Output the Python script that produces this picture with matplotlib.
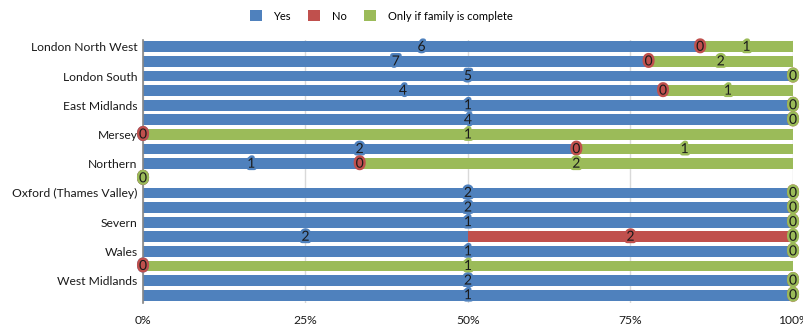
import numpy as np
import matplotlib
matplotlib.use("Agg")
import matplotlib.pyplot as plt
import matplotlib.patheffects as pe
from matplotlib.patches import Patch

plt.rcParams['font.family'] = ['Lato', 'DejaVu Sans']

# Regions (only every other row carries a visible label)
categories = ["London North West", "", "London South", "", "East Midlands", "",
              "Mersey", "", "Northern", "", "Oxford (Thames Valley)", "",
              "Severn", "", "Wales", "", "West Midlands", ""]

yes = [6, 7, 5, 4, 1, 4, 0, 2, 1, 0, 2, 2, 1, 2, 1, 0, 2, 1]
no = [0, 0, 0, 0, 0, 0, 0, 0, 0, 0, 0, 0, 0, 2, 0, 0, 0, 0]
only = [1, 2, 0, 1, 0, 0, 1, 1, 2, 0, 0, 0, 0, 0, 0, 1, 0, 0]

series_names = ["Yes", "No", "Only if family is complete"]
colors = ["#4F81BD", "#C0504D", "#9BBB59"]
xtick_vals = [0, 0.25, 0.5, 0.75, 1.0]
xtick_labels = ["0%", "25%", "50%", "75%", "100%"]

counts = np.array([yes, no, only], dtype=float)
totals = counts.sum(axis=0)
safe = np.where(totals == 0, 1, totals)
fracs = counts / safe

fig = plt.figure(figsize=(8.04, 3.27), dpi=100)
ax = fig.add_axes([143 / 804, 1 - 302.5 / 327, 650 / 804, 263 / 327])

y = np.arange(len(categories))
left = np.zeros(len(categories))
for i in range(3):
    ax.barh(y, fracs[i], left=left, height=0.74, color=colors[i],
            edgecolor="none", zorder=2)
    left = left + fracs[i]

# Data labels drawn after all bars, series by series
left = np.zeros(len(categories))
for i in range(3):
    centers = left + fracs[i] / 2
    for yy, cx, val in zip(y, centers, counts[i]):
        ax.text(cx, yy, f"{int(val)}", ha="center", va="center",
                fontsize=10, color="#1a1a1a", zorder=5,
                path_effects=[pe.withStroke(linewidth=3.5, foreground=colors[i])])
    left = left + fracs[i]

ax.set_ylim(len(categories) - 0.5, -0.5)
ax.set_xlim(0, 1)
ax.set_yticks(y)
ax.set_yticklabels(categories, fontsize=8.7, color="#1a1a1a")
ax.set_xticks(xtick_vals)
ax.set_xticklabels(xtick_labels, fontsize=8.7, color="#1a1a1a")
ax.tick_params(axis="y", length=0, pad=4)
ax.tick_params(axis="x", length=0, pad=9)

ax.grid(axis="x", color="#d9d9d9", linewidth=1, zorder=0)
for s in ["top", "right", "bottom"]:
    ax.spines[s].set_visible(False)
ax.spines["left"].set_color("#868686")
ax.spines["left"].set_linewidth(1.2)
ax.set_axisbelow(True)

handles = [Patch(facecolor=c, edgecolor="none") for c in colors]
fig.legend(handles, series_names, loc="center", ncol=3, frameon=False,
           bbox_to_anchor=(381 / 804, 1 - 16 / 327), fontsize=8,
           handlelength=1.1, handleheight=1.1, columnspacing=1.6,
           handletextpad=1.0)

fig.savefig("out.png", dpi=100)
